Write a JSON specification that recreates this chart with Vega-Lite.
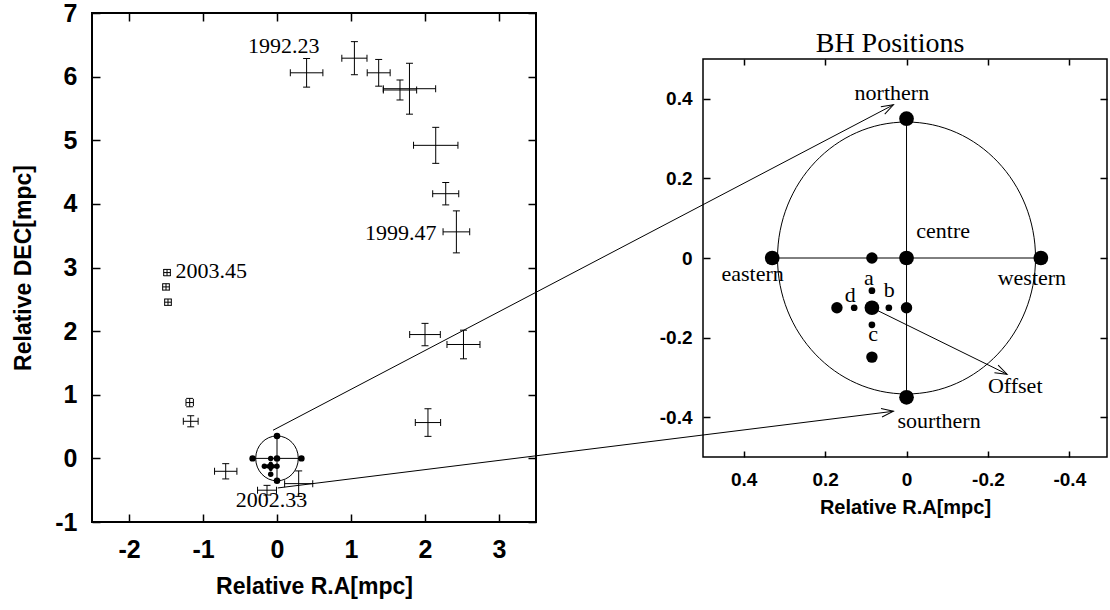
{
  "$schema": "https://vega.github.io/schema/vega-lite/v6.json",
  "background": "white",
  "padding": {"left": 11, "top": 0, "right": 0, "bottom": 0},
  "config": {
    "view": {"stroke": null},
    "axis": {"domain": false, "grid": false, "tickColor": "black", "tickWidth": 1.5, "labelColor": "black", "titleColor": "black", "minExtent": 0}
  },
  "datasets": {
    "pts": [
      {"ra": 0.40, "dec": 6.06, "ra_lo": 0.18, "ra_hi": 0.62, "dec_lo": 5.835, "dec_hi": 6.285},
      {"ra": 1.046, "dec": 6.29, "ra_lo": 0.876, "ra_hi": 1.216, "dec_lo": 6.03, "dec_hi": 6.55},
      {"ra": 1.374, "dec": 6.06, "ra_lo": 1.219, "ra_hi": 1.529, "dec_lo": 5.85, "dec_hi": 6.27},
      {"ra": 1.662, "dec": 5.79, "ra_lo": 1.437, "ra_hi": 1.887, "dec_lo": 5.633, "dec_hi": 5.947},
      {"ra": 1.79, "dec": 5.81, "ra_lo": 1.436, "ra_hi": 2.144, "dec_lo": 5.41, "dec_hi": 6.21},
      {"ra": 2.145, "dec": 4.92, "ra_lo": 1.845, "ra_hi": 2.445, "dec_lo": 4.637, "dec_hi": 5.203},
      {"ra": 2.28, "dec": 4.16, "ra_lo": 2.104, "ra_hi": 2.456, "dec_lo": 3.984, "dec_hi": 4.336},
      {"ra": 2.424, "dec": 3.56, "ra_lo": 2.244, "ra_hi": 2.604, "dec_lo": 3.23, "dec_hi": 3.89},
      {"ra": 2.0, "dec": 1.946, "ra_lo": 1.793, "ra_hi": 2.207, "dec_lo": 1.77, "dec_hi": 2.122},
      {"ra": 2.52, "dec": 1.79, "ra_lo": 2.297, "ra_hi": 2.743, "dec_lo": 1.565, "dec_hi": 2.015},
      {"ra": 2.04, "dec": 0.563, "ra_lo": 1.869, "ra_hi": 2.211, "dec_lo": 0.346, "dec_hi": 0.78},
      {"ra": -0.693, "dec": -0.203, "ra_lo": -0.844, "ra_hi": -0.542, "dec_lo": -0.323, "dec_hi": -0.083},
      {"ra": -0.135, "dec": -0.50, "ra_lo": -0.263, "ra_hi": -0.007, "dec_lo": -0.576, "dec_hi": -0.424},
      {"ra": 0.293, "dec": -0.397, "ra_lo": 0.103, "ra_hi": 0.483, "dec_lo": -0.597, "dec_hi": -0.197},
      {"ra": -1.18, "dec": 0.877, "ra_lo": -1.23, "ra_hi": -1.13, "dec_lo": 0.811, "dec_hi": 0.943},
      {"ra": -1.166, "dec": 0.583, "ra_lo": -1.266, "ra_hi": -1.066, "dec_lo": 0.496, "dec_hi": 0.67},
      {"ra": -1.486, "dec": 2.92, "ra_lo": -1.531, "ra_hi": -1.441, "dec_lo": 2.87, "dec_hi": 2.97},
      {"ra": -1.50, "dec": 2.695, "ra_lo": -1.545, "ra_hi": -1.455, "dec_lo": 2.645, "dec_hi": 2.745},
      {"ra": -1.473, "dec": 2.455, "ra_lo": -1.518, "ra_hi": -1.428, "dec_lo": 2.405, "dec_hi": 2.505}
    ],
    "minidots": [
      {"x": -0.33, "y": 0, "kind": "big"},
      {"x": 0.33, "y": 0, "kind": "big"},
      {"x": 0, "y": 0.35, "kind": "big"},
      {"x": 0, "y": -0.35, "kind": "big"},
      {"x": 0, "y": 0, "kind": "big"},
      {"x": -0.085, "y": -0.125, "kind": "big"},
      {"x": -0.085, "y": 0, "kind": "medium"},
      {"x": -0.171, "y": -0.125, "kind": "medium"},
      {"x": 0, "y": -0.125, "kind": "medium"},
      {"x": -0.085, "y": -0.249, "kind": "medium"},
      {"x": -0.085, "y": -0.082, "kind": "tiny"},
      {"x": -0.043, "y": -0.125, "kind": "tiny"},
      {"x": -0.085, "y": -0.168, "kind": "tiny"},
      {"x": -0.129, "y": -0.125, "kind": "tiny"}
    ],
    "bhdots": [
      {"x": 0.33, "y": 0, "kind": "big"},
      {"x": -0.33, "y": 0, "kind": "big"},
      {"x": 0, "y": 0.35, "kind": "big"},
      {"x": 0, "y": -0.35, "kind": "big"},
      {"x": 0, "y": 0, "kind": "big"},
      {"x": 0.085, "y": -0.125, "kind": "big"},
      {"x": 0.085, "y": 0, "kind": "medium"},
      {"x": 0.171, "y": -0.125, "kind": "medium"},
      {"x": 0, "y": -0.125, "kind": "medium"},
      {"x": 0.085, "y": -0.249, "kind": "medium"},
      {"x": 0.085, "y": -0.082, "kind": "tiny"},
      {"x": 0.0434, "y": -0.125, "kind": "tiny"},
      {"x": 0.085, "y": -0.168, "kind": "tiny"},
      {"x": 0.1286, "y": -0.125, "kind": "tiny"}
    ],
    "bhlabels": [
      {"t": "northern", "x": 0.036, "y": 0.3975},
      {"t": "centre", "x": -0.090, "y": 0.050},
      {"t": "eastern", "x": 0.378, "y": -0.057},
      {"t": "western", "x": -0.308, "y": -0.0687},
      {"t": "a", "x": 0.0925, "y": -0.0687},
      {"t": "b", "x": 0.0427, "y": -0.099},
      {"t": "c", "x": 0.082, "y": -0.2096},
      {"t": "d", "x": 0.138, "y": -0.111},
      {"t": "Offset", "x": -0.267, "y": -0.338},
      {"t": "sourthern", "x": -0.080, "y": -0.426}
    ]
  },
  "resolve": {"scale": {"x": "independent", "y": "independent", "size": "independent"}},
  "bounds": "flush",
  "spacing": 167,
  "hconcat": [
    {
      "width": 444,
      "height": 509,
      "view": {"stroke": "black", "strokeWidth": 2},
      "resolve": {"axis": {"x": "independent", "y": "independent"}},
      "layer": [
        {
          "data": {"name": "pts"},
          "mark": {"type": "rule", "color": "black", "strokeWidth": 1, "opacity": 1},
          "encoding": {
            "x": {"field": "ra_lo", "type": "quantitative", "scale": {"domain": [-2.5, 3.5], "nice": false, "zero": false},
              "axis": {"orient": "bottom", "values": [-2, -1, 0, 1, 2, 3], "tickSize": -8, "labelFont": "Liberation Sans", "labelFontWeight": "bold", "labelFontSize": 25, "labelPadding": 23, "labelExpr": "(datum.value < 0 ? '-' : '') + abs(datum.value)", "title": "Relative R.A[mpc]", "titleFont": "Liberation Sans", "titleFontSize": 23, "titleFontWeight": "bold", "titlePadding": 13}},
            "x2": {"field": "ra_hi"},
            "y": {"field": "dec", "type": "quantitative", "scale": {"domain": [-1, 7], "nice": false, "zero": false},
              "axis": {"orient": "left", "values": [-1, 0, 1, 2, 3, 4, 5, 6, 7], "tickSize": -8, "labelFont": "Liberation Sans", "labelFontWeight": "bold", "labelFontSize": 25, "labelPadding": 23, "labelExpr": "(datum.value < 0 ? '-' : '') + abs(datum.value)", "title": "Relative DEC[mpc]", "titleFont": "Liberation Sans", "titleFontSize": 23, "titleFontWeight": "bold", "titlePadding": 19}}
          }
        },
        {
          "data": {"name": "pts"},
          "mark": {"type": "rule", "color": "black", "strokeWidth": 1, "opacity": 1},
          "encoding": {
            "x": {"field": "ra", "type": "quantitative", "axis": {"orient": "top", "values": [-2, -1, 0, 1, 2, 3], "tickSize": -8, "labels": false, "title": null}},
            "y": {"field": "dec_lo", "type": "quantitative", "axis": {"orient": "right", "values": [-1, 0, 1, 2, 3, 4, 5, 6, 7], "tickSize": -8, "labels": false, "title": null}},
            "y2": {"field": "dec_hi"}
          }
        },
        {
          "data": {"name": "pts"},
          "mark": {"type": "tick", "orient": "vertical", "size": 7, "thickness": 1, "color": "black", "opacity": 1},
          "encoding": {
            "x": {"field": "ra_lo", "type": "quantitative", "axis": null},
            "y": {"field": "dec", "type": "quantitative", "axis": null}
          }
        },
        {
          "data": {"name": "pts"},
          "mark": {"type": "tick", "orient": "vertical", "size": 7, "thickness": 1, "color": "black", "opacity": 1},
          "encoding": {
            "x": {"field": "ra_hi", "type": "quantitative", "axis": null},
            "y": {"field": "dec", "type": "quantitative", "axis": null}
          }
        },
        {
          "data": {"name": "pts"},
          "mark": {"type": "tick", "orient": "horizontal", "size": 7, "thickness": 1, "color": "black", "opacity": 1},
          "encoding": {
            "x": {"field": "ra", "type": "quantitative", "axis": null},
            "y": {"field": "dec_lo", "type": "quantitative", "axis": null}
          }
        },
        {
          "data": {"name": "pts"},
          "mark": {"type": "tick", "orient": "horizontal", "size": 7, "thickness": 1, "color": "black", "opacity": 1},
          "encoding": {
            "x": {"field": "ra", "type": "quantitative", "axis": null},
            "y": {"field": "dec_hi", "type": "quantitative", "axis": null}
          }
        },
        {
          "data": {"values": [{"x": -0.33, "y": 0, "x2": 0.33, "y2": 0}, {"x": 0, "y": -0.35, "x2": 0, "y2": 0.35}, {"x": -0.054, "y": 0.442, "x2": 8.33, "y2": 5.557}, {"x": 0.01, "y": -0.465, "x2": 8.33, "y2": 0.74}]},
          "mark": {"type": "rule", "color": "black", "strokeWidth": 1, "opacity": 1},
          "encoding": {
            "x": {"field": "x", "type": "quantitative", "axis": null},
            "x2": {"field": "x2"},
            "y": {"field": "y", "type": "quantitative", "axis": null},
            "y2": {"field": "y2"}
          }
        },
        {
          "data": {"values": [{"x": 0, "y": 0}]},
          "mark": {"type": "point", "shape": "M-1,0C-1,-0.5821,-0.5523,-1.054,0,-1.054C0.5523,-1.054,1,-0.5821,1,0C1,0.5821,0.5523,1.054,0,1.054C-0.5523,1.054,-1,0.5821,-1,0Z", "size": 1815, "filled": false, "stroke": "black", "strokeWidth": 1, "opacity": 1},
          "encoding": {
            "x": {"field": "x", "type": "quantitative", "axis": null},
            "y": {"field": "y", "type": "quantitative", "axis": null}
          }
        },
        {
          "data": {"name": "minidots"},
          "mark": {"type": "point", "shape": "circle", "filled": true, "color": "black", "strokeWidth": 0, "opacity": 1},
          "encoding": {
            "x": {"field": "x", "type": "quantitative", "axis": null},
            "y": {"field": "y", "type": "quantitative", "axis": null},
            "size": {"field": "kind", "type": "ordinal", "scale": {"domain": ["big", "medium", "tiny"], "range": [42, 17, 6]}, "legend": null}
          }
        },
        {
          "data": {"values": [{"x": 8.33, "y": 5.557}]},
          "mark": {"type": "point", "shape": "M-2,-0.7L0,0L-2,0.7", "size": 144, "filled": false, "stroke": "black", "strokeWidth": 1, "angle": -27.7, "opacity": 1},
          "encoding": {
            "x": {"field": "x", "type": "quantitative", "axis": null},
            "y": {"field": "y", "type": "quantitative", "axis": null}
          }
        },
        {
          "data": {"values": [{"x": 8.33, "y": 0.74}]},
          "mark": {"type": "point", "shape": "M-2,-0.7L0,0L-2,0.7", "size": 144, "filled": false, "stroke": "black", "strokeWidth": 1, "angle": -7.1, "opacity": 1},
          "encoding": {
            "x": {"field": "x", "type": "quantitative", "axis": null},
            "y": {"field": "y", "type": "quantitative", "axis": null}
          }
        },
        {
          "data": {"values": [{"t": "1992.23", "x": 0.573, "y": 6.365}, {"t": "1999.47", "x": 2.154, "y": 3.44}]},
          "mark": {"type": "text", "align": "right", "baseline": "alphabetic", "font": "Liberation Serif", "fontSize": 22, "color": "black"},
          "encoding": {
            "x": {"field": "x", "type": "quantitative", "axis": null},
            "y": {"field": "y", "type": "quantitative", "axis": null},
            "text": {"field": "t"}
          }
        },
        {
          "data": {"values": [{"t": "2003.45", "x": -1.373, "y": 2.836}]},
          "mark": {"type": "text", "align": "left", "baseline": "alphabetic", "font": "Liberation Serif", "fontSize": 22, "color": "black"},
          "encoding": {
            "x": {"field": "x", "type": "quantitative", "axis": null},
            "y": {"field": "y", "type": "quantitative", "axis": null},
            "text": {"field": "t"}
          }
        },
        {
          "data": {"values": [{"t": "2002.33", "x": -0.074, "y": -0.764}]},
          "mark": {"type": "text", "align": "center", "baseline": "alphabetic", "font": "Liberation Serif", "fontSize": 22, "color": "black"},
          "encoding": {
            "x": {"field": "x", "type": "quantitative", "axis": null},
            "y": {"field": "y", "type": "quantitative", "axis": null},
            "text": {"field": "t"}
          }
        }
      ]
    },
    {
      "bounds": "flush",
      "spacing": 0,
      "resolve": {"scale": {"x": "independent", "y": "independent", "size": "independent"}},
      "vconcat": [
        {
          "width": 1,
          "height": 46,
          "data": {"values": []},
          "mark": "point"
        },
        {
          "width": 404,
          "height": 398,
          "view": {"stroke": "black", "strokeWidth": 1.5},
          "title": {"text": "BH Positions", "font": "Liberation Serif", "fontSize": 28, "fontWeight": "normal", "color": "black", "baseline": "alphabetic", "offset": 6, "dy": 28, "frame": "group", "anchor": "middle", "dx": -15},
          "resolve": {"axis": {"x": "independent", "y": "independent"}},
          "layer": [
            {
              "data": {"values": [{"x": 0.33, "y": 0, "x2": -0.33, "y2": 0}, {"x": 0, "y": 0.35, "x2": 0, "y2": -0.35}, {"x": 0.085, "y": -0.125, "x2": -0.247, "y2": -0.292}]},
              "mark": {"type": "rule", "color": "black", "strokeWidth": 1, "opacity": 1},
              "encoding": {
                "x": {"field": "x", "type": "quantitative", "scale": {"domain": [-0.4925, 0.5], "reverse": true, "nice": false, "zero": false},
                  "axis": {"orient": "bottom", "values": [0.4, 0.2, 0, -0.2, -0.4], "tickSize": -6, "labelFont": "Liberation Sans", "labelFontWeight": "bold", "labelFontSize": 19, "labelPadding": 19.5, "labelExpr": "(datum.value < 0 ? '-' : '') + abs(datum.value)", "title": "Relative R.A[mpc]", "titleFont": "Liberation Sans", "titleFontSize": 20, "titleFontWeight": "bold", "titlePadding": 8}},
                "x2": {"field": "x2"},
                "y": {"field": "y", "type": "quantitative", "scale": {"domain": [-0.5, 0.5], "nice": false, "zero": false},
                  "axis": {"orient": "left", "values": [-0.4, -0.2, 0, 0.2, 0.4], "tickSize": -7, "labelFont": "Liberation Sans", "labelFontWeight": "bold", "labelFontSize": 19, "labelPadding": 18, "labelExpr": "(datum.value < 0 ? '-' : '') + abs(datum.value)", "title": null}},
                "y2": {"field": "y2"}
              }
            },
            {
              "data": {"values": [{"x": 0, "y": 0}]},
              "mark": {"type": "point", "shape": "M-1,0C-1,-0.5821,-0.5523,-1.054,0,-1.054C0.5523,-1.054,1,-0.5821,1,0C1,0.5821,0.5523,1.054,0,1.054C-0.5523,1.054,-1,0.5821,-1,0Z", "size": 66564, "filled": false, "stroke": "black", "strokeWidth": 1, "opacity": 1},
              "encoding": {
                "x": {"field": "x", "type": "quantitative", "axis": {"orient": "top", "values": [0.4, 0.2, 0, -0.2, -0.4], "tickSize": -6, "labels": false, "title": null}},
                "y": {"field": "y", "type": "quantitative", "axis": {"orient": "right", "values": [-0.4, -0.2, 0, 0.2, 0.4], "tickSize": -7, "labels": false, "title": null}}
              }
            },
            {
              "data": {"name": "bhdots"},
              "mark": {"type": "point", "shape": "circle", "filled": true, "color": "black", "strokeWidth": 0, "opacity": 1},
              "encoding": {
                "x": {"field": "x", "type": "quantitative", "axis": null},
                "y": {"field": "y", "type": "quantitative", "axis": null},
                "size": {"field": "kind", "type": "ordinal", "scale": {"domain": ["big", "medium", "tiny"], "range": [216, 45, 17]}, "legend": null}
              }
            },
            {
              "data": {"values": [{"x": -0.247, "y": -0.292}]},
              "mark": {"type": "point", "shape": "M-2,-0.7L0,0L-2,0.7", "size": 144, "filled": false, "stroke": "black", "strokeWidth": 1, "angle": 26.1, "opacity": 1},
              "encoding": {
                "x": {"field": "x", "type": "quantitative", "axis": null},
                "y": {"field": "y", "type": "quantitative", "axis": null}
              }
            },
            {
              "data": {"name": "bhlabels"},
              "mark": {"type": "text", "align": "center", "baseline": "alphabetic", "font": "Liberation Serif", "fontSize": 22, "color": "black"},
              "encoding": {
                "x": {"field": "x", "type": "quantitative", "axis": null},
                "y": {"field": "y", "type": "quantitative", "axis": null},
                "text": {"field": "t"}
              }
            }
          ]
        }
      ]
    }
  ]
}
